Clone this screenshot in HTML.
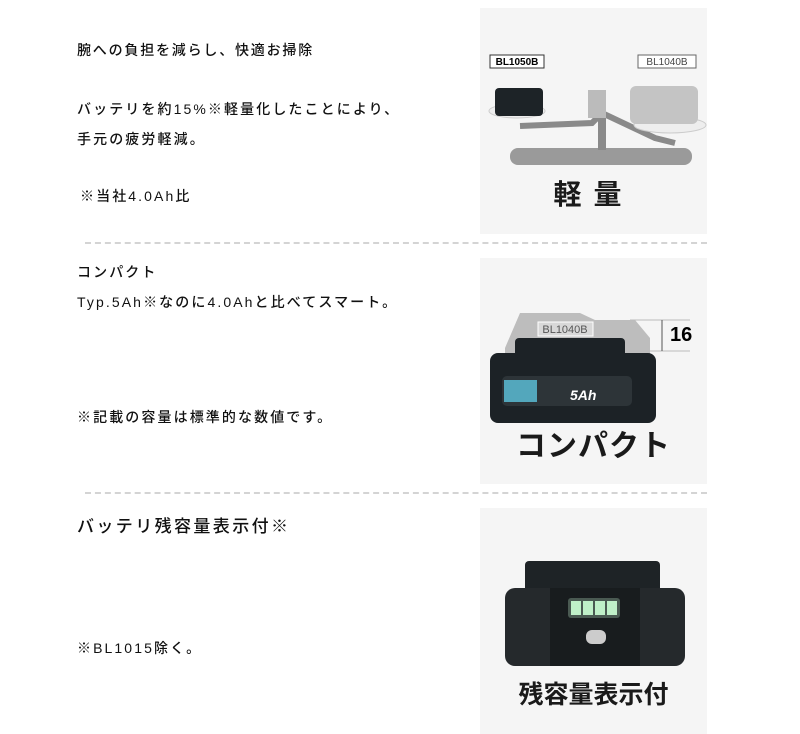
<!DOCTYPE html>
<html><head><meta charset="utf-8"><style>
*{margin:0;padding:0}
body{width:800px;height:734px;background:#fff;position:relative;overflow:hidden;font-family:"Liberation Sans","Noto Sans CJK JP",sans-serif;color:#111}
.t{position:absolute;left:77px;font-size:14px;letter-spacing:2.1px;white-space:nowrap;line-height:16px;font-weight:500}
.dash{position:absolute;left:85px;width:622px;border-top:2px dashed #d4d4d4}
.p{position:absolute;left:480px;width:227px;background:#f5f5f5}
.cap{position:absolute;left:0;width:100%;text-align:center;font-weight:bold;color:#1a1a1a}
</style></head><body>
<div class="t" style="top:42px;letter-spacing:1.8px">腕への負担を減らし、快適お掃除</div>
<div class="t" style="top:101px">バッテリを約15%※軽量化したことにより、</div>
<div class="t" style="top:131px">手元の疲労軽減。</div>
<div class="t" style="top:188px;left:80px">※当社4.0Ah比</div>
<div class="dash" style="top:242px"></div>
<div class="t" style="top:264px">コンパクト</div>
<div class="t" style="top:294px">Typ.5Ah※なのに4.0Ahと比べてスマート。</div>
<div class="t" style="top:409px">※記載の容量は標準的な数値です。</div>
<div class="dash" style="top:492px"></div>
<div class="t" style="top:517px;font-size:17px;letter-spacing:2.4px;line-height:20px">バッテリ残容量表示付※</div>
<div class="t" style="top:640px">※BL1015除く。</div>

<div class="p" style="top:8px;height:226px">
<svg width="227" height="226" style="position:absolute;left:0;top:0">
<rect x="10" y="47" width="54" height="13" fill="#fff" stroke="#333"/>
<text x="37" y="57" font-size="10" font-weight="bold" text-anchor="middle" font-family="Liberation Sans">BL1050B</text>
<rect x="158" y="47" width="58" height="13" fill="#fff" stroke="#666"/>
<text x="187" y="57" font-size="10" text-anchor="middle" fill="#444" font-family="Liberation Sans">BL1040B</text>
<rect x="30" y="140" width="182" height="17" rx="8" fill="#9a9a9a"/>
<rect x="118" y="110" width="8" height="32" fill="#8a8a8a"/>
<path d="M40 118 L112 115 L122 105 L175 130 L195 135" stroke="#8a8a8a" stroke-width="6" fill="none"/>
<rect x="108" y="82" width="18" height="28" fill="#bbb"/>
<ellipse cx="37" cy="103" rx="28" ry="7" fill="#eee" stroke="#ccc"/>
<ellipse cx="190" cy="117" rx="36" ry="8" fill="#eee" stroke="#ccc"/>
<rect x="15" y="80" width="48" height="28" rx="4" fill="#1d2327"/>
<rect x="150" y="78" width="68" height="38" rx="6" fill="#c4c4c4"/>
</svg>
<div class="cap" style="top:165px;font-size:28px;letter-spacing:12px">軽量</div>
</div>

<div class="p" style="top:258px;height:226px">
<svg width="227" height="226" style="position:absolute;left:0;top:0">
<path d="M25 90 L40 55 L100 55 L115 62 L155 62 L170 80 L170 110 L25 110Z" fill="#bdbdbd"/>
<rect x="58" y="64" width="55" height="14" fill="#d8d8d8" stroke="#fff"/>
<text x="85" y="75" font-size="11" text-anchor="middle" fill="#555" font-family="Liberation Sans">BL1040B</text>
<line x1="150" y1="62" x2="210" y2="62" stroke="#bbb"/>
<line x1="150" y1="93" x2="210" y2="93" stroke="#bbb"/>
<line x1="182" y1="62" x2="182" y2="93" stroke="#555"/>
<text x="190" y="83" font-size="20" font-weight="bold" font-family="Liberation Sans">16</text>
<rect x="10" y="95" width="166" height="70" rx="8" fill="#1c2226"/>
<rect x="35" y="80" width="110" height="20" rx="4" fill="#1c2226"/>
<rect x="22" y="118" width="130" height="30" rx="5" fill="#2d3438"/>
<rect x="24" y="122" width="33" height="22" fill="#53a7bc"/>
<text x="90" y="142" font-size="14" font-style="italic" font-weight="bold" fill="#fff" font-family="Liberation Sans">5Ah</text>
</svg>
<div class="cap" style="top:163px;font-size:30px;letter-spacing:1px">コンパクト</div>
</div>

<div class="p" style="top:508px;height:226px">
<svg width="227" height="226" style="position:absolute;left:0;top:0">
<rect x="45" y="53" width="135" height="40" rx="4" fill="#1e2326"/>
<rect x="25" y="80" width="180" height="78" rx="10" fill="#25292c"/>
<rect x="70" y="80" width="90" height="78" fill="#181c1e"/>
<rect x="88" y="90" width="52" height="20" rx="3" fill="#4a5a52"/>
<rect x="91" y="93" width="10" height="14" fill="#bff0c8"/><rect x="103" y="93" width="10" height="14" fill="#bff0c8"/><rect x="115" y="93" width="10" height="14" fill="#bff0c8"/><rect x="127" y="93" width="10" height="14" fill="#bff0c8"/>
<rect x="106" y="122" width="20" height="14" rx="6" fill="#ccc"/>
</svg>
<div class="cap" style="top:167px;font-size:25px">残容量表示付</div>
</div>
</body></html>
